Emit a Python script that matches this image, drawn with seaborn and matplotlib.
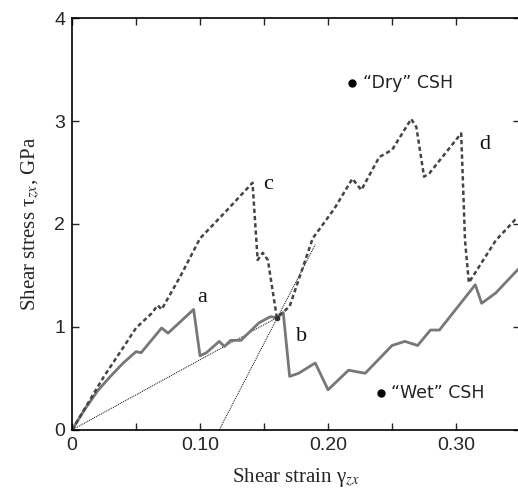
import numpy as np
import pandas as pd
import seaborn as sns
import matplotlib.pyplot as plt

# "Wet" CSH (solid gray)
wet_strain = [0.0, 0.010, 0.020, 0.030, 0.040, 0.050, 0.054, 0.070, 0.075, 0.095,
              0.100, 0.105, 0.115, 0.119, 0.124, 0.132, 0.146, 0.155, 0.160, 0.165,
              0.170, 0.177, 0.190, 0.200, 0.216, 0.229, 0.250, 0.260, 0.270, 0.280,
              0.287, 0.315, 0.320, 0.331, 0.350]
wet_stress = [0.0, 0.20, 0.38, 0.52, 0.65, 0.76, 0.75, 0.99, 0.94, 1.17,
              0.72, 0.75, 0.86, 0.81, 0.87, 0.87, 1.04, 1.10, 1.09, 1.14,
              0.52, 0.55, 0.65, 0.39, 0.58, 0.55, 0.82, 0.86, 0.82, 0.97,
              0.97, 1.41, 1.23, 1.33, 1.58]

# "Dry" CSH (dashed)
dry_strain = [0.0, 0.012, 0.025, 0.040, 0.050, 0.062, 0.067, 0.070, 0.085, 0.100,
              0.120, 0.141, 0.144, 0.145, 0.149, 0.153, 0.160, 0.170, 0.188, 0.205,
              0.219, 0.226, 0.240, 0.250, 0.265, 0.269, 0.275, 0.279, 0.304, 0.307,
              0.310, 0.331, 0.346, 0.350]
dry_stress = [0.0, 0.25, 0.52, 0.80, 0.99, 1.13, 1.21, 1.17, 1.50, 1.86,
              2.12, 2.40, 1.84, 1.65, 1.72, 1.65, 1.09, 1.20, 1.86, 2.15,
              2.44, 2.33, 2.65, 2.72, 3.02, 2.94, 2.46, 2.49, 2.88, 1.84,
              1.43, 1.84, 2.04, 2.06]

# thin secant / tangent lines
secant_x = [0.0, 0.160]
secant_y = [0.0, 1.09]
tangent_x = [0.115, 0.190]
tangent_y = [0.0, 1.80]

point_labels = ["a", "b", "c", "d"]
label_x = [0.098, 0.175, 0.149, 0.318]
label_y = [1.24, 0.86, 2.34, 2.73]

wet = pd.DataFrame({"strain": wet_strain, "stress": wet_stress})
dry = pd.DataFrame({"strain": dry_strain, "stress": dry_stress})

sns.set_style("ticks")
plt.rcParams["font.family"] = ["Liberation Sans", "DejaVu Sans"]
plt.rcParams["mathtext.fontset"] = "stix"

fig = plt.figure(figsize=(5.18, 4.88), dpi=100)
ax = fig.add_axes([0.139, 0.119, 0.865, 0.844])

ax.plot(secant_x, secant_y, color="black", lw=0.7, ls=(0, (1, 1)))
ax.plot(tangent_x, tangent_y, color="black", lw=0.7, ls=(0, (1, 1)))
sns.lineplot(data=wet, x="strain", y="stress", sort=False, estimator=None,
             color="#777777", lw=2.0, ax=ax)
sns.lineplot(data=dry, x="strain", y="stress", sort=False, estimator=None,
             color="#444444", lw=1.8, ls=(0, (1.7, 1.2)), ax=ax)
ax.plot([0.160], [1.09], "o", color="#333333", ms=3)

for t, x, y in zip(point_labels, label_x, label_y):
    ax.text(x, y, t, fontsize=16, family="Liberation Serif", color="#111111")

ax.plot([0.219], [3.37], "o", color="black", ms=5)
ax.text(0.227, 3.37, "\u201cDry\u201d CSH", fontsize=12.5, family="DejaVu Sans",
        va="center", color="#222222")
ax.plot([0.241], [0.36], "o", color="black", ms=5)
ax.text(0.249, 0.36, "\u201cWet\u201d CSH", fontsize=12.5, family="DejaVu Sans",
        va="center", color="#222222")

ax.set_xlim(0, 0.35)
ax.set_ylim(0, 4)
ax.set_xticks(np.arange(0, 0.351, 0.05))
ax.set_xticklabels(["0", "", "0.10", "", "0.20", "", "0.30", ""])
ax.set_yticks([0, 1, 2, 3, 4])
ax.tick_params(direction="in", length=5, width=1, top=True, right=True,
               labelsize=14, pad=5)
for s in ax.spines.values():
    s.set_linewidth(1.2)
    s.set_color("black")

ax.set_xlabel("Shear strain \u03b3$_{zx}$", fontsize=15, family="Liberation Serif",
              labelpad=9)
ax.set_ylabel("Shear stress \u03c4$_{zx}$, GPa", fontsize=15, family="Liberation Serif",
              labelpad=9)
fig.savefig("out.png", dpi=100)
